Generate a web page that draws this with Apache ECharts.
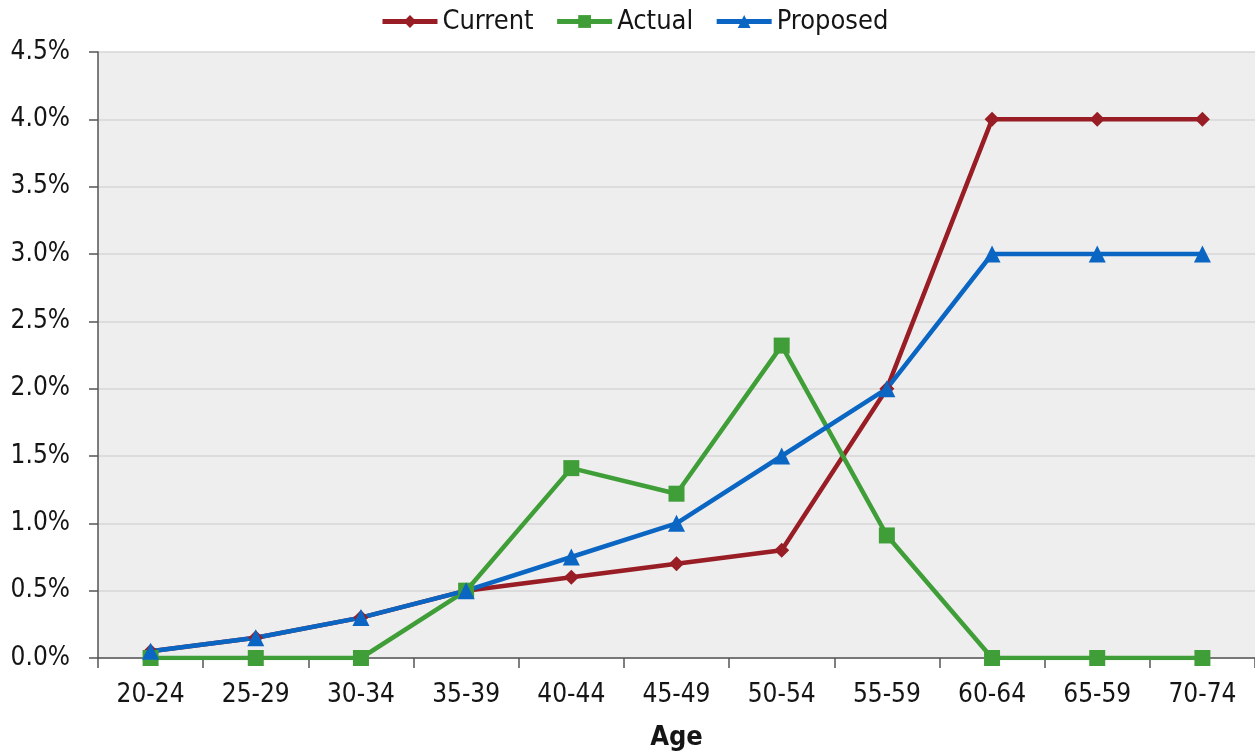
<!DOCTYPE html>
<html>
<head>
<meta charset="utf-8">
<script src="https://cdn.jsdelivr.net/npm/echarts@6/dist/echarts.min.js"></script>
<style>
  html, body { margin: 0; padding: 0; background: #ffffff; overflow: hidden; }
  #chart { width: 1255px; height: 756px; }
</style>
</head>
<body>
<div id="chart"></div>
<script>
// Age bands on the horizontal axis
const ageBands = ['20-24', '25-29', '30-34', '35-39', '40-44', '45-49', '50-54', '55-59', '60-64', '65-59', '70-74'];

// Rates in percent for each age band
const currentRates  = [0.05, 0.15, 0.30, 0.50, 0.60, 0.70, 0.80, 2.00, 4.00, 4.00, 4.00];
const actualRates   = [0.00, 0.00, 0.00, 0.50, 1.41, 1.22, 2.32, 0.91, 0.00, 0.00, 0.00];
const proposedRates = [0.05, 0.15, 0.30, 0.50, 0.75, 1.00, 1.50, 2.00, 3.00, 3.00, 3.00];

const FONT = '"DejaVu Sans Condensed", "Liberation Sans Narrow", "Arial Narrow", "Liberation Sans", sans-serif';
const TEXT = '#151515';

function lineSeries(name, data, color, symbol, size) {
  return {
    name: name,
    type: 'line',
    data: data,
    symbol: symbol,
    symbolSize: size,
    showSymbol: true,
    lineStyle: { width: 4.5, color: color },
    itemStyle: { color: color },
    emphasis: { disabled: true },
    animation: false
  };
}

const chart = echarts.init(document.getElementById('chart'), null, { renderer: 'canvas' });
chart.setOption({
  backgroundColor: '#ffffff',
  textStyle: { fontFamily: FONT },
  legend: {
    top: 8,
    left: 380,
    padding: 0,
    itemWidth: 55,
    itemHeight: 16,
    itemGap: 21,
    lineStyle: { width: 5 },
    textStyle: { fontFamily: FONT, fontSize: 27, color: TEXT },
    data: ['Current', 'Actual', 'Proposed']
  },
  grid: {
    left: 98,
    right: 0,
    top: 52,
    bottom: 85,
    show: true,
    backgroundColor: '#eeeeee',
    borderWidth: 0,
    containLabel: false
  },
  xAxis: {
    type: 'category',
    data: ageBands,
    boundaryGap: true,
    name: 'Age',
    nameLocation: 'middle',
    nameGap: 66,
    nameTextStyle: { fontFamily: FONT, fontSize: 27, fontWeight: 'bold', color: TEXT },
    axisLine: { lineStyle: { color: '#555555', width: 1.5 } },
    axisTick: { show: true, length: 10, lineStyle: { color: '#555555', width: 1.5 } },
    axisLabel: { margin: 24, fontFamily: FONT, fontSize: 26, color: TEXT },
    splitLine: { show: false }
  },
  yAxis: {
    type: 'value',
    min: 0,
    max: 4.5,
    interval: 0.5,
    axisLine: { show: true, lineStyle: { color: '#555555', width: 1.5 } },
    axisTick: { show: true, length: 9, lineStyle: { color: '#555555', width: 1.5 } },
    axisLabel: {
      margin: 28,
      fontFamily: FONT,
      fontSize: 26,
      color: TEXT,
      formatter: function (v) { return v.toFixed(1) + '%'; }
    },
    splitLine: { show: true, lineStyle: { color: '#d6d6d6', width: 1.5 } }
  },
  series: [
    lineSeries('Current', currentRates, '#981d25', 'diamond', 15),
    lineSeries('Actual', actualRates, '#3f9e37', 'rect', 16),
    lineSeries('Proposed', proposedRates, '#0a66c2', 'triangle', 17)
  ]
});
</script>
</body>
</html>
